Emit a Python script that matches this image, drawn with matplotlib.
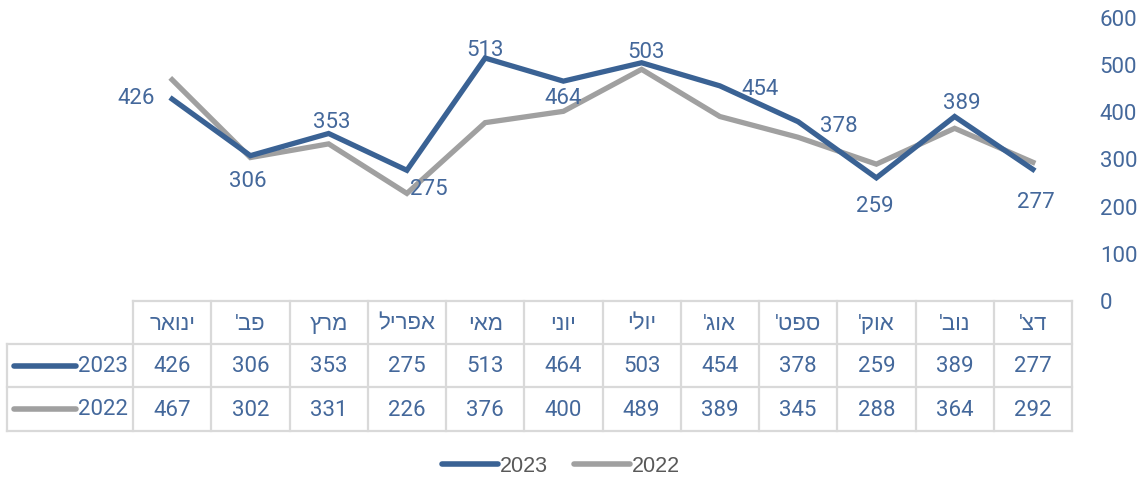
import matplotlib
matplotlib.use('Agg')
import matplotlib.pyplot as plt
import matplotlib.transforms as mtransforms
from matplotlib.lines import Line2D
import numpy as np

# data
months = ['ינואר', "פב'", 'מרץ', 'אפריל', 'מאי', 'יוני', 'יולי',
          "אוג'", "ספט'", "אוק'", "נוב'", "דצ'"]
y2023 = [426, 306, 353, 275, 513, 464, 503, 454, 378, 259, 389, 277]
y2022 = [467, 302, 331, 226, 376, 400, 489, 389, 345, 288, 364, 292]
series_names = ['2023', '2022']

BLUE = '#3a6294'
GRAY = '#a0a0a0'
TXT = '#44689b'
LEG = '#595959'
GRID = '#d9d9d9'
FS = 16

plt.rcParams['font.family'] = ['Roboto', 'Liberation Sans', 'DejaVu Sans']

W, H = 1148, 485


def vis(s):
    # matplotlib has no bidi, so hand it the hebrew in visual order
    return s[::-1]


def fx(px):
    return px / W


def fy(py):
    return 1 - py / H


fig = plt.figure(figsize=(W / 100, H / 100), dpi=100)
top_px, bot_px = 18, 301
left_px, right_px = 133, 1072
ax = fig.add_axes([fx(left_px), fy(bot_px), fx(right_px - left_px),
                   (bot_px - top_px) / H])

x = np.arange(len(months))
ax.plot(x, y2022, color=GRAY, lw=3.8, solid_joinstyle='miter', zorder=2)
ax.plot(x, y2023, color=BLUE, lw=3.8, solid_joinstyle='miter', zorder=3)

ax.set_xlim(-0.5, len(months) - 0.5)
ax.set_ylim(0, 600)
ax.set_yticks(range(0, 601, 100))
ax.yaxis.tick_right()
ax.tick_params(axis='y', length=0, pad=20, labelsize=FS, labelcolor=TXT)
ax.set_xticks([])
for s in ax.spines.values():
    s.set_visible(False)

# data labels for 2023 (offsets in points)
offsets = [(-26, 1), (-2, -18), (2, 9), (16, -13), (0, 6), (0, -12),
           (3, 8), (29, -2), (29, -3), (-1, -20), (5, 10), (2, -23)]
for xi, v, (dx, dy) in zip(x, y2023, offsets):
    ax.annotate(str(v), (xi, v), xytext=(dx, dy), textcoords='offset points',
                ha='center', va='center', fontsize=FS, color=TXT, zorder=4)

# data table under the plot
tr = mtransforms.blended_transform_factory(ax.transData, ax.transAxes)
ax_h = bot_px - top_px


def ay(py):
    return (bot_px - py) / ax_h


rows_px = [302, 345, 388, 432]
x_left = -0.5 - (left_px - 7) / ((right_px - left_px) / len(months))
xr = len(months) - 0.5
kw = dict(color=GRID, lw=1.6, transform=tr, clip_on=False, zorder=1)
ax.plot([-0.5, xr], [ay(rows_px[0])] * 2, **kw)
for py in rows_px[1:]:
    ax.plot([x_left, xr], [ay(py)] * 2, **kw)
ax.plot([x_left, x_left], [ay(rows_px[1]), ay(rows_px[3])], **kw)
for b in np.arange(-0.5, len(months), 1.0):
    ax.plot([b, b], [ay(rows_px[0]), ay(rows_px[3])], **kw)

tkw = dict(ha='center', va='center', fontsize=FS, color=TXT, transform=tr,
           clip_on=False)
for xi, m in zip(x, months):
    ax.text(xi, ay(324), vis(m), **tkw)
for xi, v in zip(x, y2023):
    ax.text(xi, ay(367), str(v), **tkw)
for xi, v in zip(x, y2022):
    ax.text(xi, ay(410), str(v), **tkw)

# row headers with legend keys
for name, col, py in zip(series_names, [BLUE, GRAY], [367, 410]):
    t = fig.text(fx(128), fy(py), name, ha='right', va='center', fontsize=FS,
                 color=TXT)
    fig.add_artist(Line2D([fx(14), fx(76)], [fy(py), fy(py)], color=col, lw=4,
                          solid_capstyle='round', transform=fig.transFigure))

# bottom legend
handles = [Line2D([], [], color=BLUE, lw=4, solid_capstyle='round'),
           Line2D([], [], color=GRAY, lw=4, solid_capstyle='round')]
fig.legend(handles, series_names, loc='center', bbox_to_anchor=(fx(561), fy(467)),
           ncol=2, frameon=False, labelcolor=LEG,
           prop={'family': ['Liberation Sans', 'DejaVu Sans'], 'size': 15.5},
           handlelength=2.6, handletextpad=0.1, columnspacing=1.2)

fig.savefig('out.png', dpi=100, facecolor='white')
